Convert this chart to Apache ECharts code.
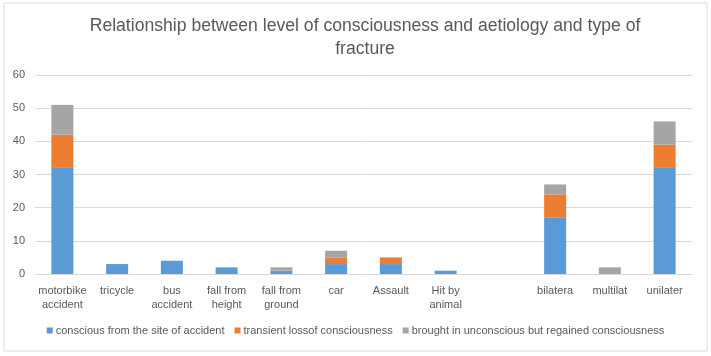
<!DOCTYPE html>
<html><head><meta charset="utf-8">
<script src="https://cdn.jsdelivr.net/npm/echarts@6/dist/echarts.min.js"></script>
<style>html,body{margin:0;padding:0;background:#fff}#c{width:711px;height:356px}</style>
</head><body><div id="c"></div>
<script>
const categories = ['motorbike\naccident','tricycle','bus\naccident','fall from\nheight','fall from\nground','car','Assault','Hit by\nanimal','','bilatera','multilat','unilater'];
const conscious = [32,3,4,2,1,3,3,1,null,17,null,32];
const transient = [10,null,null,null,null,2,2,null,null,7,null,7];
const broughtIn = [9,null,null,null,1,2,null,null,null,3,2,7];
const seriesNames = ['conscious from the site of accident','transient lossof consciousness','brought in unconscious but regained consciousness'];
const yTicks = {min:0,max:60,interval:10};

const chart = echarts.init(document.getElementById('c'));
const font = 'Liberation Sans, Arial, sans-serif';
const mk = (name, data, color) => ({name, type:'bar', stack:'a', data, barWidth:22, itemStyle:{color}});
chart.setOption({
  animation:false,
  graphic:[{type:'rect',shape:{x:4,y:3,width:703,height:348},style:{fill:'none',stroke:'#D9D9D9',lineWidth:1},silent:true}],
  title:{text:'Relationship between level of consciousness and aetiology and type of\nfracture',left:360,textAlign:'center',top:10,
    textStyle:{fontFamily:font,fontSize:17.6,fontWeight:'normal',color:'#595959',lineHeight:23}},
  grid:{left:35,right:19,top:75,bottom:82},
  legend:{bottom:15,left:'center',itemWidth:6,itemHeight:6,itemGap:10,icon:'rect',
    textStyle:{fontFamily:font,fontSize:11,color:'#595959',padding:[0,0,0,-2]}},
  xAxis:{type:'category',data:categories,
    axisLine:{lineStyle:{color:'#D9D9D9'}},axisTick:{show:false},
    axisLabel:{interval:0,fontFamily:font,fontSize:11,color:'#595959',lineHeight:14,margin:10}},
  yAxis:{type:'value',min:yTicks.min,max:yTicks.max,interval:yTicks.interval,
    axisLine:{show:false},axisTick:{show:false},
    splitLine:{lineStyle:{color:'#D9D9D9'}},
    axisLabel:{fontFamily:font,fontSize:11,color:'#595959',margin:10}},
  series:[mk(seriesNames[0],conscious,'#5B9BD5'),mk(seriesNames[1],transient,'#ED7D31'),mk(seriesNames[2],broughtIn,'#A5A5A5')]
});
</script></body></html>
